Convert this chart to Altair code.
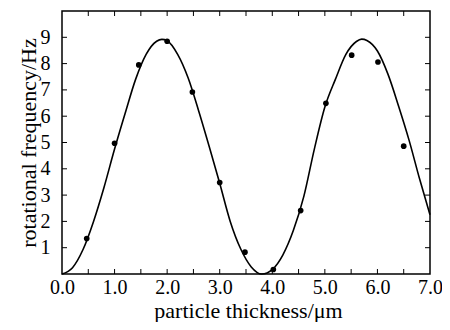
import altair as alt
import pandas as pd

# fitted curve
curve_x = [0.0, 0.2, 0.4, 0.6, 0.8, 1.0, 1.2, 1.4, 1.6, 1.8, 1.9, 2.0, 2.2, 2.4, 2.6, 2.8,
           3.0, 3.2, 3.4, 3.6, 3.8, 4.0, 4.2, 4.4, 4.6, 4.8, 5.0, 5.2, 5.4, 5.6, 5.7, 5.8,
           6.0, 6.2, 6.4, 6.6, 6.8, 7.0]
curve_y = [0.0, 0.24, 0.93, 2.0, 3.3, 4.75, 6.1, 7.4, 8.35, 8.85, 8.92, 8.87, 8.35, 7.45, 6.2, 4.85,
           3.45, 2.0, 0.95, 0.27, 0.0, 0.17, 0.72, 1.65, 2.95, 4.75, 6.35, 7.4, 8.35, 8.84, 8.93, 8.88,
           8.48, 7.6, 6.4, 5.1, 3.63, 2.25]

# measured points
pt_x = [0.47, 1.0, 1.46, 2.0, 2.48, 3.0, 3.48, 4.02, 4.54, 5.02, 5.51, 6.01, 6.5]
pt_y = [1.35, 4.97, 7.95, 8.85, 6.92, 3.48, 0.83, 0.17, 2.41, 6.49, 8.32, 8.06, 4.86]

# axis ticks / labels
x_label_vals = [0, 1, 2, 3, 4, 5, 6, 7]
x_tick_vals = [0.5, 1.0, 1.5, 2.0, 2.5, 3.0, 3.5, 4.0, 4.5, 5.0, 5.5, 6.0, 6.5]
y_label_vals = [1, 2, 3, 4, 5, 6, 7, 8, 9]

W, H = 368, 263
FONT = "Liberation Serif"

curve_df = pd.DataFrame({"x": curve_x, "y": curve_y})
pts_df = pd.DataFrame({"x": pt_x, "y": pt_y})
xt_df = pd.DataFrame({"x": x_tick_vals})
yt_df = pd.DataFrame({"y": y_label_vals})

xscale = alt.Scale(domain=[0, 7], nice=False, zero=False)
yscale = alt.Scale(domain=[0, 10], nice=False, zero=False)

xaxis = alt.Axis(values=x_label_vals, format=".1f", ticks=False, tickSize=0, domain=False, grid=False,
                 labelFont=FONT, labelFontSize=20, labelColor="black", labelPadding=3,
                 labelFlush=False, labelOverlap=False,
                 title="particle thickness/μm", titleFont=FONT, titleFontSize=22,
                 titleFontWeight="normal", titleColor="black",
                 titleX=W / 2 + 2, titleY=43, titleBaseline="alphabetic", titleAlign="center")
yaxis = alt.Axis(values=y_label_vals, format="d", ticks=False, tickSize=0, domain=False, grid=False,
                 labelFont=FONT, labelFontSize=20, labelColor="black", labelPadding=12,
                 labelFlush=False, labelOverlap=False,
                 title="rotational frequency/Hz", titleFont=FONT, titleFontSize=22,
                 titleFontWeight="normal", titleColor="black",
                 titleX=-27, titleY=H / 2, titleAngle=-90, titleBaseline="alphabetic",
                 titleAlign="center")

X = alt.X("x:Q", scale=xscale, axis=xaxis)
Y = alt.Y("y:Q", scale=yscale, axis=yaxis)

line = alt.Chart(curve_df).mark_line(color="black", strokeWidth=1.6, interpolate="monotone").encode(
    x=X, y=Y,
)

points = alt.Chart(pts_df).mark_circle(color="black", size=32, opacity=1).encode(
    x=X, y=Y,
)

bottom_ticks = alt.Chart(xt_df).mark_rule(color="black", strokeWidth=1).encode(
    x=X, y=alt.value(H), y2=alt.value(H - 5),
)
top_ticks = alt.Chart(xt_df).mark_rule(color="black", strokeWidth=1).encode(
    x=X, y=alt.value(0), y2=alt.value(5),
)
left_ticks = alt.Chart(yt_df).mark_rule(color="black", strokeWidth=1).encode(
    y=Y, x=alt.value(0), x2=alt.value(5),
)
right_ticks = alt.Chart(yt_df).mark_rule(color="black", strokeWidth=1).encode(
    y=Y, x=alt.value(W), x2=alt.value(W - 5),
)

chart = alt.layer(line, points, bottom_ticks, top_ticks, left_ticks, right_ticks).properties(
    width=W, height=H,
    autosize=alt.AutoSizeParams(type="none"),
    padding={"left": 54, "top": 3, "right": 12, "bottom": 48},
).configure(
    background="white",
    view=alt.ViewConfig(stroke="black", strokeWidth=1.5),
)

chart.save("out.html", embed_options={"renderer": "svg", "actions": False})
